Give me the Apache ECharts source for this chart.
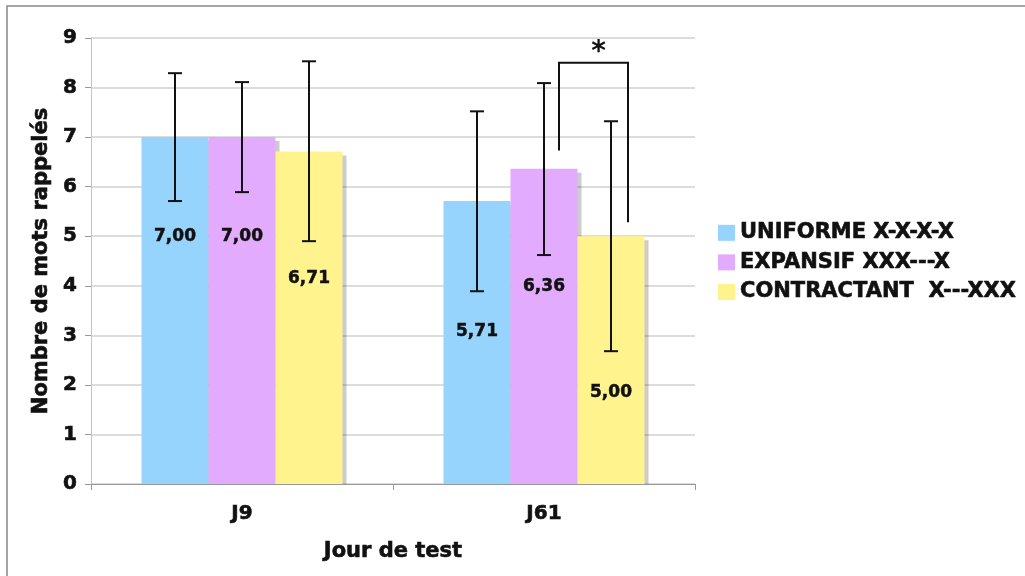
<!DOCTYPE html>
<html>
<head>
<meta charset="utf-8">
<script src="https://cdn.jsdelivr.net/npm/echarts@6/dist/echarts.min.js"></script>
<style>
  html, body { margin: 0; padding: 0; background: #fff; }
  #chart { width: 1025px; height: 576px; }
</style>
</head>
<body>
<div id="chart"></div>
<script>
// Données
const categories = ['J9', 'J61'];
const seriesNames = ['UNIFORME X-X-X-X', 'EXPANSIF XXX---X', 'CONTRACTANT  X---XXX'];
const uniforme = [7.00, 5.71];
const expansif = [7.00, 6.36];
const contractant = [6.71, 5.00];
// barres d'erreur : [bas, haut]
const errUniforme = [[5.71, 8.29], [3.89, 7.52]];
const errExpansif = [[5.89, 8.11], [4.62, 8.09]];
const errContractant = [[4.90, 8.53], [2.68, 7.32]];
// accolade de significativité (J61, EXPANSIF vs CONTRACTANT)
const sigBracket = { category: 1, top: 8.5, left: 6.73, right: 5.28, text: '*' };
const yTicks = [0, 1, 2, 3, 4, 5, 6, 7, 8, 9];

const colors = ['#96d3fd', '#e3abfd', '#fff38e'];
const values = [uniforme, expansif, contractant];
const errors = [errUniforme, errExpansif, errContractant];
const font = 'DejaVu Sans';
const INK = '#111';
const BAR_W = 67;
// décalage vertical des étiquettes sous la barre d'erreur (px)
const labelDy = [[36, 40], [44, 32], [37, 41]];

const fmt = (v) => v.toFixed(2).replace('.', ',');

// texte gras un peu épaissi (proche de Verdana Bold)
const boldText = (size) => ({
    fontFamily: font, fontWeight: 'bold', fontSize: size, color: INK,
    textBorderColor: INK, textBorderWidth: 0.6
});

const chart = echarts.init(document.getElementById('chart'));

const barSeries = values.map((vals, i) => ({
    name: seriesNames[i],
    type: 'bar',
    barWidth: BAR_W,
    barGap: '0%',
    data: vals,
    itemStyle: {
        color: colors[i],
        shadowColor: 'rgba(0,0,0,0.2)',
        shadowOffsetX: 4,
        shadowOffsetY: 4,
        shadowBlur: 0
    },
    z: 2
}));

// barres d'erreur et étiquettes
const errSeries = {
    type: 'custom',
    name: 'err',
    data: errors.flatMap((e, i) => e.map((r, c) => [c, r[0], r[1], i, values[i][c]])),
    renderItem: (params, api) => {
        const c = api.value(0);
        const i = api.value(3);
        const lo = api.coord([c, api.value(1)]);
        const hi = api.coord([c, api.value(2)]);
        const x = lo[0] + (i - 1) * BAR_W;
        const cap = 7;
        const st = { stroke: INK, lineWidth: 2 };
        return {
            type: 'group',
            children: [
                { type: 'line', shape: { x1: x, y1: hi[1], x2: x, y2: lo[1] }, style: st },
                { type: 'line', shape: { x1: x - cap, y1: hi[1], x2: x + cap, y2: hi[1] }, style: st },
                { type: 'line', shape: { x1: x - cap, y1: lo[1], x2: x + cap, y2: lo[1] }, style: st },
                {
                    type: 'text',
                    style: {
                        x: x, y: lo[1] + labelDy[i][c],
                        text: fmt(api.value(4)),
                        font: 'bold 17px ' + font,
                        fill: INK,
                        stroke: INK,
                        lineWidth: 0.5,
                        align: 'center',
                        verticalAlign: 'middle'
                    }
                }
            ]
        };
    },
    z: 5
};

const bracketSeries = {
    type: 'custom',
    name: 'sig',
    data: [[sigBracket.category, sigBracket.top, sigBracket.left, sigBracket.right]],
    renderItem: (params, api) => {
        const c = api.value(0);
        const top = api.coord([c, api.value(1)]);
        const l = api.coord([c, api.value(2)]);
        const r = api.coord([c, api.value(3)]);
        const x1 = top[0] + 15;
        const x2 = top[0] + BAR_W + 17;
        const st = { stroke: INK, lineWidth: 2, fill: null };
        return {
            type: 'group',
            children: [
                { type: 'polyline', shape: { points: [[x1, l[1]], [x1, top[1]], [x2, top[1]], [x2, r[1]]] }, style: st },
                {
                    type: 'text',
                    style: {
                        x: (x1 + x2) / 2 + 5, y: top[1] - 10,
                        text: sigBracket.text,
                        font: 'bold 28px ' + font,
                        fill: INK,
                        align: 'center',
                        verticalAlign: 'middle'
                    }
                }
            ]
        };
    },
    z: 5
};

chart.setOption({
    animation: false,
    backgroundColor: '#fff',
    grid: { left: 91, right: 330, top: 38, bottom: 92 },
    legend: {
        data: seriesNames,
        orient: 'vertical',
        left: 718,
        top: 222,
        padding: 0,
        icon: 'rect',
        itemWidth: 17,
        itemHeight: 16,
        itemGap: 8,
        textStyle: boldText(21)
    },
    xAxis: {
        type: 'category',
        data: categories,
        name: 'Jour de test',
        nameLocation: 'middle',
        nameGap: 57,
        nameTextStyle: boldText(21),
        axisLine: { lineStyle: { color: '#999', width: 1 } },
        axisTick: { show: true, length: 6, lineStyle: { color: '#999' } },
        axisLabel: Object.assign(boldText(20), { margin: 20 }),
        z: 10
    },
    yAxis: {
        type: 'value',
        min: yTicks[0],
        max: yTicks[yTicks.length - 1],
        interval: 1,
        name: 'Nombre de mots rappelés',
        nameLocation: 'middle',
        nameGap: 38,
        nameTextStyle: boldText(21),
        axisLine: { show: true, lineStyle: { color: '#c4c4c4' } },
        axisTick: { show: true, length: 6, lineStyle: { color: '#999' } },
        axisLabel: Object.assign(boldText(20), { margin: 14 }),
        splitLine: { lineStyle: { color: '#dcdcdc', width: 2 } }
    },
    graphic: [{
        type: 'rect',
        shape: { x: 7, y: 6, width: 1200, height: 800 },
        style: { fill: null, stroke: '#888', lineWidth: 1.5 },
        silent: true
    }, {
        // masque l'ombre des barres sous l'axe des abscisses
        type: 'rect',
        shape: { x: 92, y: 484.5, width: 603, height: 6 },
        style: { fill: '#fff' },
        silent: true,
        z: 8
    }],
    series: [...barSeries, errSeries, bracketSeries]
});
</script>
</body>
</html>
